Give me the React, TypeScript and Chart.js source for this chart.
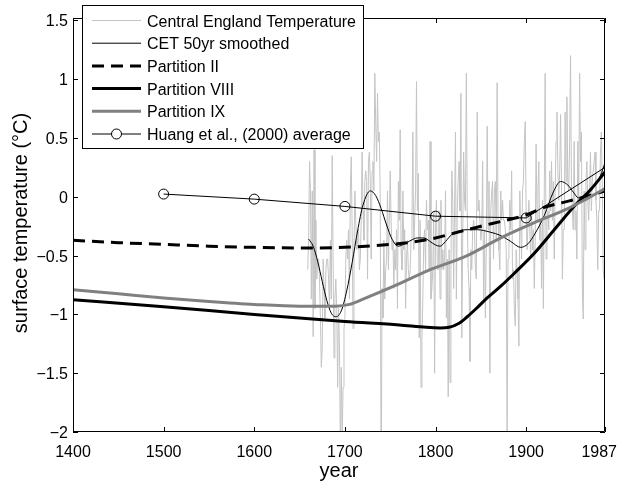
import React, { useEffect, useRef } from "react";
import { Chart, registerables } from "chart.js";
Chart.register(...registerables);

// ---------- data ----------
const CET_START_YEAR = 1659;
// Central England Temperature annual anomalies (°C), 1659..1987
const cetAnomaly = [
  -0.62,
  -0.37, 0.30, 0.05, -0.87, 0.05, -1.19, 0.40, -0.95, -0.20, -0.70,
  -0.53, -0.53, -0.70, -1.03, -1.45, -1.28, -0.53, -0.78, -1.03, -0.62,
  -0.53, -0.53, -0.70, -0.95, -0.37, -0.87, 0.35, -0.53, -1.37, -0.87,
  -0.70, -0.95, -1.62, -0.95, -1.28, -2.16, -1.45, -2.05, -1.62, -1.12,
  -1.03, -0.53, -0.37, -0.53, -0.28, -0.87, 0.05, 0.34, -0.28, -1.12,
  -0.45, 0.05, -0.20, -0.45, -0.37, -0.28, -0.62, -0.53, -0.20, 0.38,
  -0.12, -0.37, 0.13, 0.22, 0.13, -0.70, 0.30, 0.38, 0.13, -0.53,
  0.22, 0.30, 0.05, 1.05, 0.63, 0.30, 0.88, 0.47, 0.55, -0.03,
  -2.61, -0.78, -1.03, -0.37, -0.87, -0.62, -0.53, 0.05, -0.62, -0.20,
  0.22, -0.20, -0.45, -0.37, -0.78, -0.45, -0.62, -0.28, -0.95, 0.13,
  -0.20, 0.57, -0.45, -0.62, 0.05, -0.45, -0.28, -0.95, -0.53, -0.37,
  -0.62, -0.70, -0.62, -0.37, -0.20, 0.55, -0.45, -0.20, 0.05, 0.98,
  -0.12, 0.20, -1.20, -0.20, -1.62, -1.20, -0.87, -0.37, -0.28, -0.62,
  -0.03, -0.28, -0.20, -0.62, 0.47, -0.87, -0.78, -0.62, -0.12, -1.50,
  -0.28, -0.03, -0.62, -0.62, -0.12, -0.87, -0.03, -0.62, -0.45, -0.62,
  -0.53, 0.05, -1.03, -0.53, -1.70, -0.45, -1.58, -0.62, 0.22, -0.03,
  -0.78, -0.12, 0.55, -0.87, -0.12, 0.13, 0.30, -0.12, 0.88, -1.20,
  -0.37, 0.38, -0.03, -0.12, 1.05, -0.12, -0.62, -0.78, -1.40, -0.45,
  -0.62, -0.28, -0.20, -0.28, -0.62, -0.70, 0.72, -0.12, -0.03, -0.03,
  -0.37, -0.28, 0.30, -0.87, -0.28, -1.03, -0.45, 0.60, -0.28, 0.13,
  -1.50, -0.12, 0.05, 0.13, -0.53, 0.05, 0.13, -0.37, 0.97, -0.20,
  -0.45, -0.62, 0.05, -0.20, -0.03, -0.20, -0.20, -0.28, -0.45, -2.03,
  -0.53, -0.45, -0.03, -0.28, 0.22, -0.70, -0.62, -0.95, -1.10, -0.45,
  -0.62, -0.87, -1.27, 0.05, -0.28, -0.53, 0.05, 0.13, 0.47, 0.64,
  -0.12, -0.45, -0.45, -0.03, -0.28, -0.53, -0.12, -0.45, -0.28, -0.78,
  -0.37, 0.45, -0.20, 0.05, 0.30, -0.37, -0.20, -0.78, -0.03, -0.95,
  0.05, 1.05, -0.53, -0.20, -0.12, -0.28, 0.22, -0.12, 0.30, -0.20,
  0.13, -0.53, 0.05, 0.47, 0.72, 0.22, -0.03, 0.22, 0.70, 0.13,
  -0.70, -0.28, -0.28, 0.72, 0.13, 0.85, 0.13, 0.05, 0.47, 1.20,
  0.05, -0.12, -0.28, 0.47, -0.28, -0.12, -0.53, 0.47, -0.03, 1.05,
  0.30, 0.55, -0.78, -1.04, 0.05, -0.45, 0.13, 0.30, -0.03, -0.20,
  0.05, 0.38, -0.12, 0.13, 0.22, 0.30, 0.38, -0.03, -0.20, -0.62,
  -0.12, -0.12, 0.38, 0.55, 0.13, -0.62, -0.70, -0.45,
];

const smoothYears = [1660, 1665, 1670, 1675, 1680, 1685, 1690, 1696, 1702, 1708, 1714, 1720, 1728, 1734, 1740, 1746, 1752, 1759, 1766, 1773, 1780, 1787, 1794, 1800, 1805, 1811, 1818, 1826, 1835, 1846, 1860, 1872, 1883, 1894, 1902, 1910, 1920, 1930, 1938, 1946, 1952, 1958, 1964, 1970, 1976, 1982, 1987];
const smoothValues = [-0.36, -0.42, -0.55, -0.72, -0.88, -0.99, -1.02, -0.97, -0.80, -0.56, -0.29, -0.07, 0.05, 0.01, -0.10, -0.24, -0.36, -0.42, -0.40, -0.37, -0.35, -0.35, -0.38, -0.41, -0.42, -0.38, -0.32, -0.29, -0.28, -0.28, -0.30, -0.33, -0.38, -0.43, -0.40, -0.31, -0.16, 0.04, 0.13, 0.10, 0.04, -0.01, 0.00, 0.04, 0.10, 0.18, 0.29];

const partIIYears = [1400, 1450, 1500, 1550, 1600, 1650, 1700, 1750, 1775, 1800, 1830, 1850, 1872, 1900, 1920, 1940, 1960, 1987];
const partIIValues = [-0.37, -0.39, -0.405, -0.42, -0.43, -0.435, -0.43, -0.405, -0.385, -0.35, -0.29, -0.25, -0.21, -0.155, -0.09, -0.05, -0.01, 0.05];

const partVIIIYears = [1400, 1500, 1600, 1700, 1760, 1790, 1805, 1815, 1825, 1835, 1845, 1857, 1872, 1887, 1909, 1931, 1953, 1971, 1987];
const partVIIIValues = [-0.875, -0.935, -1.0, -1.06, -1.09, -1.11, -1.115, -1.11, -1.08, -1.02, -0.95, -0.86, -0.76, -0.65, -0.48, -0.28, -0.08, 0.06, 0.21];

const partIXYears = [1400, 1450, 1500, 1550, 1600, 1650, 1690, 1705, 1720, 1754, 1791, 1835, 1872, 1909, 1946, 1964, 1987];
const partIXValues = [-0.79, -0.825, -0.86, -0.89, -0.915, -0.93, -0.93, -0.915, -0.87, -0.76, -0.63, -0.50, -0.35, -0.22, -0.10, -0.03, 0.07];

const huangYears = [1500, 1600, 1700, 1800, 1900, 1987];
const huangValues = [0.023, -0.02, -0.082, -0.165, -0.18, 0.25];
const huangMarker = [true, true, true, true, true, false];

const xTicks = [1400, 1500, 1600, 1700, 1800, 1900, 1987];
const yTicks = [-2, -1.5, -1, -0.5, 0, 0.5, 1, 1.5];
const xRange = [1400, 1987];
const yRange = [-2, 1.52];

const legendLabels = [
  "Central England Temperature",
  "CET 50yr smoothed",
  "Partition II",
  "Partition VIII",
  "Partition IX",
  "Huang et al., (2000) average",
];
const xTitle = "year";
const yTitle = "surface temperature (\u00B0C)";

// ---------- styles ----------
const FONT = '"Liberation Sans", Arial, Helvetica, sans-serif';
const CET_COLOR = "rgb(196,196,196)";
const IX_COLOR = "rgb(128,128,128)";

const pts = (xs: number[], ys: number[]) => xs.map((x, i) => ({ x, y: ys[i] }));
const fmt = (v: number) => (v < 0 ? "\u2212" + String(Math.abs(v)) : String(v));

const matlabPlugin = {
  id: "matlabAxes",
  afterDraw(chart: any) {
    const { ctx, chartArea: a, scales, width } = chart;
    const xs = scales.x;
    const ys = scales.y;
    ctx.save();
    // frame
    ctx.strokeStyle = "#000";
    ctx.lineWidth = 1;
    ctx.beginPath();
    ctx.rect(a.left + 0.5, a.top + 0.5, a.right - a.left - 1, a.bottom - a.top - 1);
    ctx.stroke();
    const tl = 5;
    ctx.beginPath();
    xTicks.forEach((t) => {
      const px = Math.round(xs.getPixelForValue(t)) + 0.5;
      ctx.moveTo(px, a.bottom);
      ctx.lineTo(px, a.bottom - tl);
      ctx.moveTo(px, a.top);
      ctx.lineTo(px, a.top + tl);
    });
    yTicks.forEach((t) => {
      const py = Math.round(ys.getPixelForValue(t)) + 0.5;
      ctx.moveTo(a.left, py);
      ctx.lineTo(a.left + tl, py);
      ctx.moveTo(a.right, py);
      ctx.lineTo(a.right - tl, py);
    });
    ctx.stroke();
    // tick labels
    ctx.fillStyle = "#000";
    ctx.font = `16px ${FONT}`;
    ctx.textAlign = "center";
    ctx.textBaseline = "alphabetic";
    xTicks.forEach((t) => {
      const s = fmt(t);
      const w = ctx.measureText(s).width;
      let cx = xs.getPixelForValue(t);
      cx = Math.min(cx, width - 1 - w / 2);
      ctx.fillText(s, cx, 456.5);
    });
    ctx.textAlign = "right";
    yTicks.forEach((t) => {
      ctx.fillText(fmt(t), a.left - 5, ys.getPixelForValue(t) + 6);
    });
    // axis titles
    ctx.font = `20px ${FONT}`;
    ctx.textAlign = "center";
    ctx.textBaseline = "alphabetic";
    ctx.fillText(xTitle, (a.left + a.right) / 2, 477);
    ctx.save();
    ctx.translate(27, 223);
    ctx.rotate(-Math.PI / 2);
    ctx.fillText(yTitle, 0, 0);
    ctx.restore();

    // legend
    const bx = 82.5, by = 5.5, bw = 281, bh = 143;
    ctx.fillStyle = "#fff";
    ctx.fillRect(bx, by, bw, bh);
    ctx.strokeStyle = "#000";
    ctx.lineWidth = 1;
    ctx.strokeRect(bx, by, bw, bh);
    const x0 = 92, x1 = 141;
    const styles = [
      { c: CET_COLOR, w: 1, d: [] as number[] },
      { c: "#000", w: 1, d: [] as number[] },
      { c: "#000", w: 3, d: [12, 7] },
      { c: "#000", w: 3, d: [] as number[] },
      { c: IX_COLOR, w: 3, d: [] as number[] },
      { c: "#000", w: 1, d: [] as number[] },
    ];
    ctx.font = `16px ${FONT}`;
    ctx.textAlign = "left";
    ctx.textBaseline = "alphabetic";
    legendLabels.forEach((lab, i) => {
      const y = 20.5 + i * 22.7;
      const s = styles[i];
      ctx.strokeStyle = s.c;
      ctx.lineWidth = s.w;
      ctx.setLineDash(s.d);
      ctx.beginPath();
      ctx.moveTo(x0, y);
      ctx.lineTo(x1, y);
      ctx.stroke();
      ctx.setLineDash([]);
      if (i === 5) {
        ctx.beginPath();
        ctx.arc((x0 + x1) / 2, y, 5, 0, Math.PI * 2);
        ctx.fillStyle = "#fff";
        ctx.fill();
        ctx.strokeStyle = "#000";
        ctx.lineWidth = 1;
        ctx.stroke();
      }
      ctx.fillStyle = "#000";
      ctx.fillText(lab, 147, y + 6);
    });
    ctx.restore();
  },
};

export default function App() {
  const ref = useRef<HTMLCanvasElement>(null);
  useEffect(() => {
    document.body.style.margin = "0";
    const canvas = ref.current;
    if (!canvas) return;
    const cetPoints = cetAnomaly.map((v, i) => ({ x: CET_START_YEAR + i, y: v }));
    const chart = new Chart(canvas, {
      type: "line",
      data: {
        datasets: [
          {
            label: legendLabels[0],
            data: cetPoints,
            borderColor: CET_COLOR,
            borderWidth: 1,
            pointRadius: 0,
            tension: 0,
            order: 6,
          },
          {
            label: legendLabels[1],
            data: pts(smoothYears, smoothValues),
            borderColor: "#000",
            borderWidth: 1,
            pointRadius: 0,
            cubicInterpolationMode: "monotone",
            order: 5,
          },
          {
            label: legendLabels[2],
            data: pts(partIIYears, partIIValues),
            borderColor: "#000",
            borderWidth: 3,
            borderDash: [12, 7],
            borderCapStyle: "butt",
            pointRadius: 0,
            cubicInterpolationMode: "monotone",
            order: 4,
          },
          {
            label: legendLabels[3],
            data: pts(partVIIIYears, partVIIIValues),
            borderColor: "#000",
            borderWidth: 3,
            pointRadius: 0,
            cubicInterpolationMode: "monotone",
            order: 3,
          },
          {
            label: legendLabels[4],
            data: pts(partIXYears, partIXValues),
            borderColor: IX_COLOR,
            borderWidth: 3,
            pointRadius: 0,
            cubicInterpolationMode: "monotone",
            order: 2,
          },
          {
            label: legendLabels[5],
            data: pts(huangYears, huangValues),
            borderColor: "#000",
            borderWidth: 1,
            tension: 0,
            pointRadius: huangMarker.map((m) => (m ? 5 : 0)),
            pointBorderWidth: 1,
            pointBorderColor: "#000",
            pointBackgroundColor: "rgba(255,255,255,0)",
            pointStyle: "circle",
            order: 1,
          },
        ] as any,
      },
      options: {
        animation: false,
        responsive: false,
        devicePixelRatio: 1,
        layout: { padding: { left: 73, right: 13, top: 18, bottom: 51 } },
        plugins: { legend: { display: false }, tooltip: { enabled: false } },
        scales: {
          x: { type: "linear", min: xRange[0], max: xRange[1], display: false },
          y: { type: "linear", min: yRange[0], max: yRange[1], display: false },
        },
      } as any,
      plugins: [matlabPlugin],
    });
    return () => chart.destroy();
  }, []);
  return (
    <div style={{ width: 618, height: 483, position: "relative", background: "#fff" }}>
      <canvas ref={ref} width={618} height={483} style={{ display: "block" }} />
    </div>
  );
}
